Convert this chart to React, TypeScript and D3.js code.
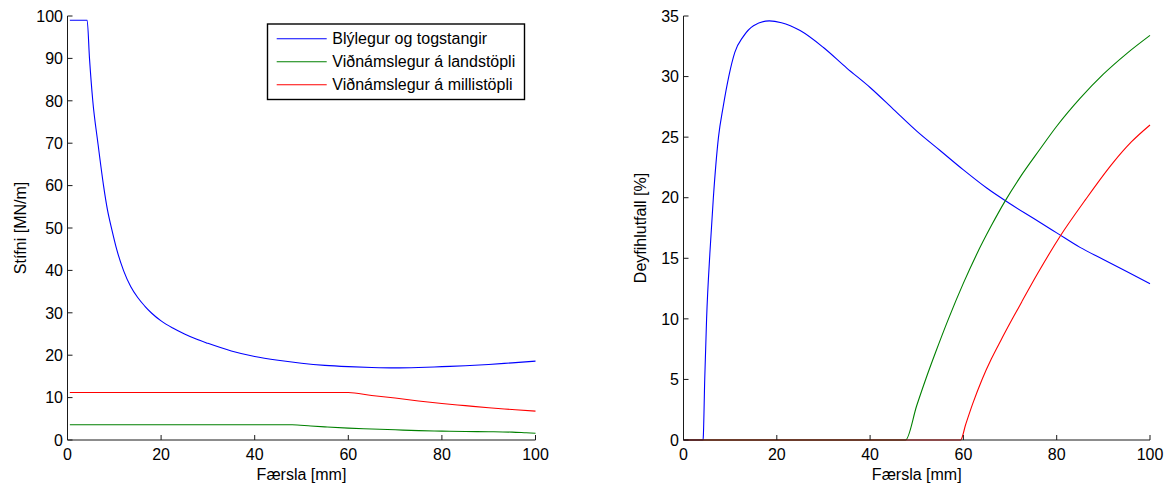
import React from "react";
import * as d3 from "d3";

// ---- Left plot data: Stífni [MN/m] vs Færsla [mm]
const blueLeftX = [0.5, 4.2, 4.7, 5.4, 6.5, 7.7, 8.5, 9.5, 10.5, 12, 13.5, 15, 16.5, 18, 20, 22.5, 25, 27.5, 30, 35, 40, 45, 50, 55, 60, 65, 70, 75, 80, 85, 90, 95, 100];
const blueLeftY = [99, 99, 90, 80, 70, 60, 54.5, 49.5, 45.0, 39.9, 36.2, 33.6, 31.6, 29.9, 28.1, 26.4, 25.0, 23.8, 22.8, 21.0, 19.7, 18.8, 18.1, 17.6, 17.3, 17.1, 17.0, 17.1, 17.3, 17.5, 17.8, 18.2, 18.6];
const greenLeftX = [0.5, 48, 52, 55, 60, 65, 70, 75, 80, 85, 90, 95, 98, 100];
const greenLeftY = [3.6, 3.6, 3.3, 3.1, 2.8, 2.6, 2.4, 2.2, 2.1, 2.0, 1.95, 1.85, 1.7, 1.6];
const redLeftX = [0.5, 60, 65, 70, 75, 80, 85, 90, 95, 100];
const redLeftY = [11.2, 11.2, 10.5, 9.9, 9.2, 8.6, 8.1, 7.6, 7.2, 6.8];

// ---- Right plot data: Deyfihlutfall [%] vs Færsla [mm]
const blueRightX = [0, 4.2, 4.25, 4.55, 4.95, 5.7, 6.4, 7.5, 8.5, 9.7, 11, 12.8, 15, 18.4, 21, 25, 30, 35, 40, 45, 50, 55, 60, 65, 70, 75, 80, 85, 90, 95, 100];
const blueRightY = [0, 0, 0.3, 5, 10, 15.7, 20, 25, 27.5, 30, 32, 33.3, 34.2, 34.6, 34.45, 33.8, 32.4, 30.7, 29.1, 27.3, 25.5, 23.9, 22.3, 20.8, 19.5, 18.3, 17.1, 15.9, 14.9, 13.9, 12.9];
const greenRightX = [0, 47.6, 50, 52, 54, 56.8, 60, 62.8, 66, 68.9, 72, 76.4, 80, 85, 90, 95, 100];
const greenRightY = [0, 0, 2.85, 5.1, 7.2, 10.0, 12.95, 15.3, 17.7, 19.7, 21.6, 24.0, 25.9, 28.2, 30.2, 31.9, 33.4];
const redRightX = [0, 59.4, 60.5, 62, 64, 66, 68, 70.5, 72.5, 76, 80.7, 86.1, 92.1, 96, 100];
const redRightY = [0, 0, 1.3, 3.0, 5.0, 6.7, 8.2, 10.0, 11.4, 13.8, 16.8, 19.8, 22.9, 24.6, 26.0];

const xTicks = [0, 20, 40, 60, 80, 100];
const leftYTicks = [0, 10, 20, 30, 40, 50, 60, 70, 80, 90, 100];
const rightYTicks = [0, 5, 10, 15, 20, 25, 30, 35];

const legendLabels = ["Blýlegur og togstangir", "Viðnámslegur á landstöpli", "Viðnámslegur á millistöpli"];
const seriesColors = ["#0000ff", "#008000", "#ff0000"];

const FONT = "'Liberation Sans', Arial, Helvetica, sans-serif";
const AXIS = "#1a1a1a";

type Series = { xs: number[]; ys: number[]; color: string };

function Panel(props: {
  left: number; right: number; top: number; bottom: number;
  yMax: number; yTicks: number[]; yLabel: string; yLabelX: number;
  series: Series[];
}) {
  const { left, right, top, bottom, yMax, yTicks, yLabel, yLabelX, series } = props;
  const x = d3.scaleLinear().domain([0, 100]).range([left, right]);
  const y = d3.scaleLinear().domain([0, yMax]).range([bottom, top]);
  const line = d3.line<[number, number]>()
    .x((d) => x(d[0]))
    .y((d) => y(d[1]))
    .curve(d3.curveMonotoneX);
  const tick = 5;
  return (
    <g>
      {series.map((s, i) => (
        <path
          key={i}
          d={line(s.xs.map((v, j) => [v, s.ys[j]] as [number, number])) || ""}
          fill="none"
          stroke={s.color}
          strokeWidth={1.1}
        />
      ))}
      <line x1={left} x2={left} y1={top} y2={bottom} stroke={AXIS} strokeWidth={1} />
      <line x1={left} x2={right} y1={bottom} y2={bottom} stroke={AXIS} strokeWidth={1} />
      {xTicks.map((t) => (
        <g key={"x" + t}>
          <line x1={x(t)} x2={x(t)} y1={bottom} y2={bottom - tick} stroke={AXIS} strokeWidth={1} />
          <text x={x(t)} y={460} textAnchor="middle" fontSize={16} fontFamily={FONT} fill="#000">{t}</text>
        </g>
      ))}
      {yTicks.map((t) => (
        <g key={"y" + t}>
          <line x1={left} x2={left + tick} y1={y(t)} y2={y(t)} stroke={AXIS} strokeWidth={1} />
          <text x={left - 4.5} y={y(t)} dy="0.36em" textAnchor="end" fontSize={16} fontFamily={FONT} fill="#000">{t}</text>
        </g>
      ))}
      <text x={(left + right) / 2} y={480} textAnchor="middle" fontSize={16} fontFamily={FONT} fill="#000">Færsla [mm]</text>
      <text
        transform={`translate(${yLabelX},${(top + bottom) / 2}) rotate(-90)`}
        textAnchor="middle" fontSize={16} fontFamily={FONT} fill="#000"
      >{yLabel}</text>
    </g>
  );
}

export default function App() {
  const leftSeries: Series[] = [
    { xs: blueLeftX, ys: blueLeftY, color: seriesColors[0] },
    { xs: greenLeftX, ys: greenLeftY, color: seriesColors[1] },
    { xs: redLeftX, ys: redLeftY, color: seriesColors[2] },
  ];
  const rightSeries: Series[] = [
    { xs: blueRightX, ys: blueRightY, color: seriesColors[0] },
    { xs: greenRightX, ys: greenRightY, color: seriesColors[1] },
    { xs: redRightX, ys: redRightY, color: seriesColors[2] },
  ];
  const lg = { x: 267.5, y: 24, w: 257, h: 75.5 };
  const rowY = [38.7, 61.7, 84.7];
  return (
    <svg width={1172} height={486} style={{ position: "absolute", left: 0, top: 0, background: "#fff" }}>
      <rect x={0} y={0} width={1172} height={486} fill="#fff" />
      <Panel left={67.5} right={535.5} top={16} bottom={440} yMax={100} yTicks={leftYTicks}
        yLabel="Stífni [MN/m]" yLabelX={25.5} series={leftSeries} />
      <Panel left={683.5} right={1150} top={16} bottom={440} yMax={35} yTicks={rightYTicks}
        yLabel="Deyfihlutfall [%]" yLabelX={645.5} series={rightSeries} />
      <g>
        <rect x={lg.x} y={lg.y} width={lg.w} height={lg.h} fill="#fff" stroke="#000" strokeWidth={1.4} />
        {legendLabels.map((lab, i) => (
          <g key={lab}>
            <line x1={276.7} x2={326.7} y1={rowY[i]} y2={rowY[i]} stroke={seriesColors[i]} strokeWidth={1.1} />
            <text x={332.3} y={rowY[i]} dy="0.36em" fontSize={16} fontFamily={FONT} fill="#000">{lab}</text>
          </g>
        ))}
      </g>
    </svg>
  );
}
